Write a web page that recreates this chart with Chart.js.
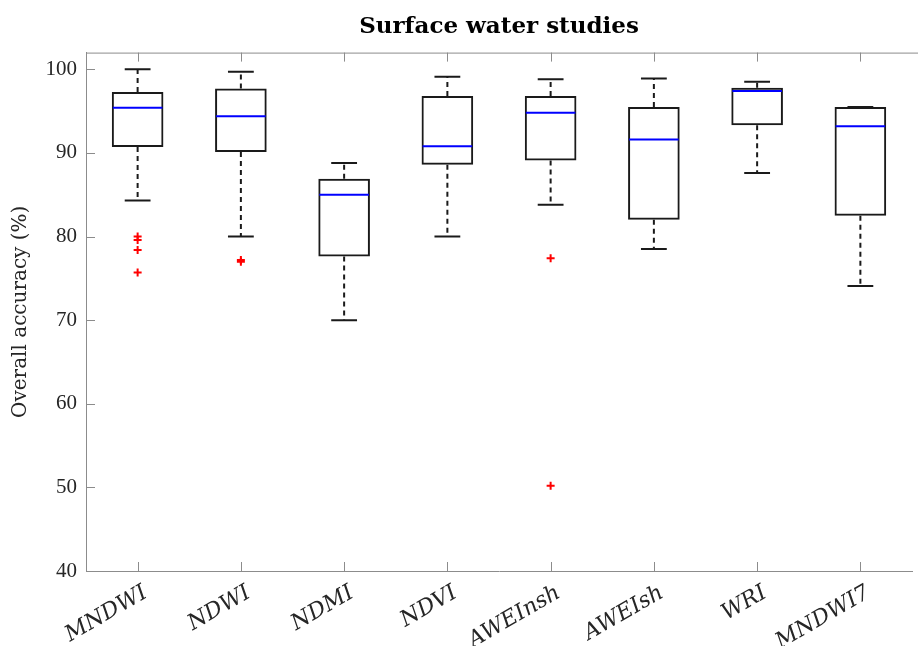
<!DOCTYPE html>
<html>
<head>
<meta charset="utf-8">
<script src="https://cdn.jsdelivr.net/npm/chart.js@4.4.1/dist/chart.umd.min.js"></script>
<style>
    html, body { margin: 0; padding: 0; background: #fff; overflow: hidden; }
    #wrap { width: 918px; height: 646px; }
</style>
</head>
<body>
<div id="wrap"><canvas id="grafico"></canvas></div>
<script>
// valores
const categorias = ['MNDWI', 'NDWI', 'NDMI', 'NDVI', 'AWEInsh', 'AWEIsh', 'WRI', 'MNDWI7'];
const bigodeInf = [84.3, 80.0, 70.0, 80.0, 83.8, 78.5, 87.6, 74.1];
const quartil1 = [90.7, 90.1, 77.6, 88.6, 89.1, 82.0, 93.3, 82.5];
const medianas = [95.4, 94.4, 85.0, 90.8, 94.8, 91.6, 97.4, 93.2];
const quartil3 = [97.3, 97.7, 86.9, 96.8, 96.8, 95.5, 97.8, 95.5];
const bigodeSup = [100.0, 99.7, 88.8, 99.1, 98.8, 98.9, 98.5, 95.5];
// outliers: categoria e valor
const outlierCat = ['MNDWI', 'MNDWI', 'MNDWI', 'MNDWI', 'NDWI', 'NDWI', 'AWEInsh', 'AWEInsh'];
const outlierVal = [80.0, 79.6, 78.4, 75.7, 77.2, 77.0, 77.4, 50.2];
const yTicks = [40, 50, 60, 70, 80, 90, 100];

const fonte = 'DejaVu Serif, serif';
const fonteNum = 'Liberation Serif, serif';
const corTexto = '#262626';
const corEixo = '#8c8c8c';

// desenha bigodes, medianas, ticks internos e a borda de cima
const boxplotPlugin = {
    id: 'boxplotExtras',
    afterDatasetsDraw(chart) {
        const ctx = chart.ctx;
        const x = chart.scales.x;
        const y = chart.scales.y;
        const passo = x.getPixelForValue(1) - x.getPixelForValue(0);
        const meiaTampa = passo * 0.125;
        const meiaCaixa = passo * 0.25;

        ctx.save();
        for (let i = 0; i < categorias.length; i++) {
            const cx = x.getPixelForValue(i);

            // bigodes tracejados
            ctx.strokeStyle = '#1a1a1a';
            ctx.lineWidth = 2;
            ctx.setLineDash([5, 4]);
            ctx.beginPath();
            ctx.moveTo(cx, y.getPixelForValue(quartil3[i]));
            ctx.lineTo(cx, y.getPixelForValue(bigodeSup[i]));
            ctx.moveTo(cx, y.getPixelForValue(quartil1[i]));
            ctx.lineTo(cx, y.getPixelForValue(bigodeInf[i]));
            ctx.stroke();

            // tampas
            ctx.setLineDash([]);
            ctx.beginPath();
            ctx.moveTo(cx - meiaTampa, y.getPixelForValue(bigodeSup[i]));
            ctx.lineTo(cx + meiaTampa, y.getPixelForValue(bigodeSup[i]));
            ctx.moveTo(cx - meiaTampa, y.getPixelForValue(bigodeInf[i]));
            ctx.lineTo(cx + meiaTampa, y.getPixelForValue(bigodeInf[i]));
            ctx.stroke();

            // mediana
            ctx.strokeStyle = '#0000ff';
            ctx.beginPath();
            ctx.moveTo(cx - meiaCaixa + 1, y.getPixelForValue(medianas[i]));
            ctx.lineTo(cx + meiaCaixa - 1, y.getPixelForValue(medianas[i]));
            ctx.stroke();
        }
        ctx.restore();
    },
    afterDraw(chart) {
        const ctx = chart.ctx;
        const area = chart.chartArea;
        const x = chart.scales.x;
        const y = chart.scales.y;
        const tam = 9;

        ctx.save();
        ctx.strokeStyle = corEixo;
        ctx.lineWidth = 1;
        ctx.beginPath();
        // borda de cima
        ctx.moveTo(area.left, area.top + 0.5);
        ctx.lineTo(chart.width, area.top + 0.5);
        // ticks do eixo x (em baixo e em cima)
        x.ticks.forEach((t, i) => {
            const px = Math.round(x.getPixelForTick(i)) + 0.5;
            ctx.moveTo(px, area.bottom);
            ctx.lineTo(px, area.bottom - tam);
            ctx.moveTo(px, area.top);
            ctx.lineTo(px, area.top + tam);
        });
        // ticks do eixo y
        y.ticks.forEach((t, i) => {
            const py = Math.round(y.getPixelForTick(i)) + 0.5;
            ctx.moveTo(area.left, py);
            ctx.lineTo(area.left + tam, py);
        });
        ctx.stroke();
        ctx.restore();
    }
};

const ctx = document.getElementById('grafico').getContext('2d');
const grafico = new Chart(ctx, {
    type: 'bar',
    data: {
        labels: categorias,
        datasets: [{
            label: 'Caixas',
            data: categorias.map((c, i) => [quartil1[i], quartil3[i]]),
            backgroundColor: 'rgba(0,0,0,0)',
            borderColor: '#1a1a1a',
            borderWidth: 2,
            borderSkipped: false,
            categoryPercentage: 1.0,
            barPercentage: 0.5
        }, {
            type: 'scatter',
            label: 'Outliers',
            data: outlierVal.map((v, k) => ({ x: outlierCat[k], y: v })),
            pointStyle: 'cross',
            radius: 4,
            borderColor: '#ff0000',
            backgroundColor: '#ff0000',
            borderWidth: 2
        }]
    },
    options: {
        responsive: true,
        maintainAspectRatio: false,
        animation: false,
        layout: { padding: { left: 0, right: 0, top: 0, bottom: 0 } },
        plugins: {
            legend: { display: false },
            tooltip: { enabled: false },
            title: {
                display: true,
                text: 'Surface water studies',
                fullSize: false,
                color: '#000',
                font: { family: fonte, size: 23, weight: 'bold' },
                padding: { top: 13, bottom: 12 }
            }
        },
        scales: {
            x: {
                type: 'category',
                offset: true,
                grid: { display: true, drawOnChartArea: false, drawTicks: false, tickLength: 0 },
                border: { display: true, color: corEixo, width: 1 },
                ticks: {
                    color: corTexto,
                    font: { family: fonte, size: 22, style: 'italic' },
                    minRotation: 30,
                    maxRotation: 30,
                    autoSkip: false,
                    padding: 9,
                    labelOffset: 8
                },
                afterFit(scale) { scale.height = 75; }
            },
            y: {
                min: 40,
                max: 102,
                grid: { display: true, drawOnChartArea: false, drawTicks: false, tickLength: 0 },
                border: { display: true, color: corEixo, width: 1 },
                ticks: {
                    stepSize: 10,
                    includeBounds: false,
                    color: corTexto,
                    padding: 9,
                    font: { family: fonteNum, size: 21 }
                },
                afterBuildTicks(scale) {
                    scale.ticks = yTicks.map(v => ({ value: v }));
                },
                title: {
                    display: true,
                    text: 'Overall accuracy (%)',
                    color: corTexto,
                    font: { family: fonte, size: 20 },
                    padding: { top: 9, bottom: 0 }
                },
                afterFit(scale) { scale.width = 86; }
            }
        }
    },
    plugins: [boxplotPlugin]
});
</script>
</body>
</html>
